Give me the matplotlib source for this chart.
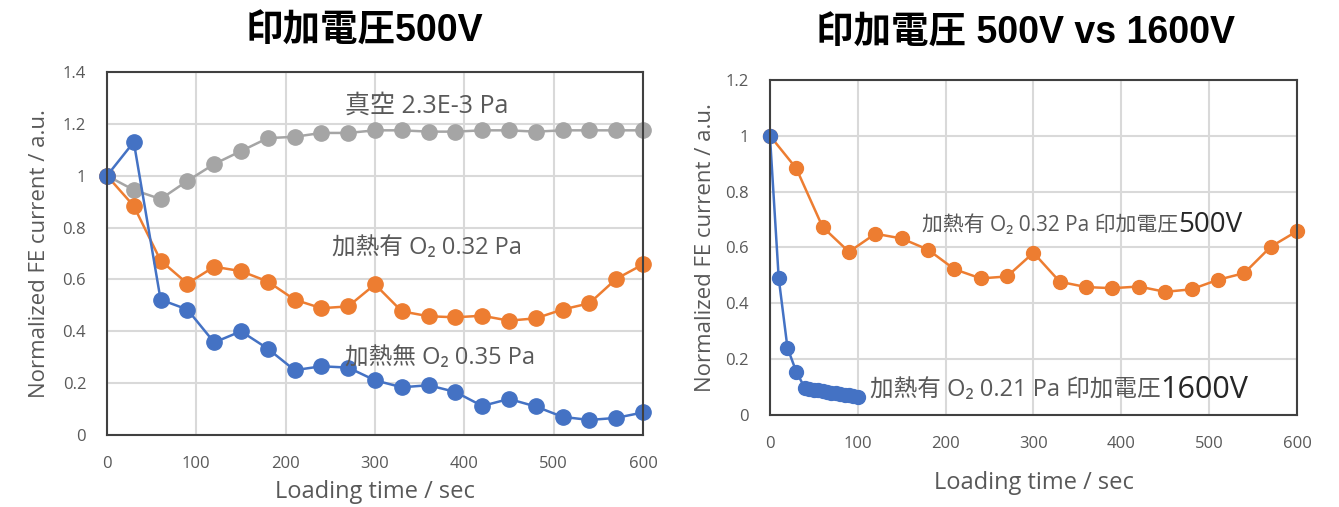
import matplotlib
matplotlib.use("Agg")
import matplotlib.pyplot as plt
from matplotlib.ticker import FuncFormatter

plt.rcParams['font.family'] = ['Open Sans', 'Noto Sans CJK JP', 'DejaVu Sans']
TITLE_FONT = ['Liberation Sans', 'Noto Sans CJK JP']

# loading time (sec) for the 500V runs
TIME_500 = [0, 30, 60, 90, 120, 150, 180, 210, 240, 270, 300,
            330, 360, 390, 420, 450, 480, 510, 540, 570, 600]

VACUUM = [1.0, 0.945, 0.91, 0.98, 1.045, 1.095, 1.145, 1.15, 1.165, 1.165, 1.175,
          1.175, 1.17, 1.17, 1.175, 1.175, 1.17, 1.175, 1.175, 1.175, 1.175]
HEAT_O2_032 = [1.0, 0.883, 0.673, 0.584, 0.649, 0.632, 0.592, 0.522, 0.489, 0.496, 0.581,
               0.477, 0.458, 0.454, 0.46, 0.441, 0.45, 0.484, 0.508, 0.602, 0.658]
NOHEAT_O2_035 = [1.0, 1.13, 0.522, 0.484, 0.357, 0.4, 0.333, 0.25, 0.265, 0.26, 0.211,
                 0.184, 0.192, 0.166, 0.112, 0.139, 0.11, 0.07, 0.058, 0.066, 0.087]

# 1600V run, sampled faster
TIME_1600 = [0, 10, 20, 30, 40, 45, 50, 55, 60, 65, 70, 75, 80, 85, 90, 95, 100]
HEAT_O2_021 = [1.0, 0.49, 0.24, 0.155, 0.095, 0.093, 0.09, 0.088, 0.085, 0.083,
               0.08, 0.078, 0.075, 0.073, 0.07, 0.068, 0.066]

BLUE = "#4472C4"
ORANGE = "#ED7D31"
GRAY = "#A5A5A5"
TEXT = "#595959"


def style_axes(ax, ymax, xpad, ypad):
    ax.set_xlim(0, 600)
    ax.set_ylim(0, ymax)
    ax.set_xticks(range(0, 601, 100))
    ax.set_yticks([i * 0.2 for i in range(int(round(ymax / 0.2)) + 1)])
    ax.yaxis.set_major_formatter(FuncFormatter(lambda v, p: "%g" % round(v, 1)))
    ax.grid(True, color="#D9D9D9", linewidth=1.5)
    ax.set_axisbelow(True)
    for s in ax.spines.values():
        s.set_color("#404040")
        s.set_linewidth(1.5)
    ax.tick_params(length=0, pad=15, labelsize=12, labelcolor=TEXT)
    ax.set_xlabel("Loading time / sec", fontsize=17, color=TEXT, labelpad=xpad)
    ax.set_ylabel("Normalized FE current / a.u.", fontsize=16, color=TEXT, labelpad=ypad)


def label(ax, x, y, text, size, big=None):
    t = ax.text(x, y, text, fontsize=size, color=TEXT, va="center", ha="left")
    if big:
        ax.annotate(big, xy=(1, 0.5), xycoords=t, va="center", ha="left",
                    fontsize=size + 5, color="#262626")


fig = plt.figure(figsize=(13.39, 5.07), dpi=100)

# left: 500V, three conditions
ax1 = fig.add_axes([0.0799, 0.142, 0.4003, 0.716])
ax1.plot(TIME_500, VACUUM, "-o", color=GRAY, lw=1.8, ms=11, clip_on=False)
ax1.plot(TIME_500, HEAT_O2_032, "-o", color=ORANGE, lw=1.8, ms=11, clip_on=False)
ax1.plot(TIME_500, NOHEAT_O2_035, "-o", color=BLUE, lw=1.8, ms=11, clip_on=False)
style_axes(ax1, 1.4, 6, 9)
label(ax1, 266, 1.27, "真空 2.3E-3 Pa", 18)
label(ax1, 252, 0.72, "加熱有 O₂ 0.32 Pa", 17)
label(ax1, 266, 0.297, "加熱無 O₂ 0.35 Pa", 17)
fig.text(0.272, 0.937, "印加電圧500V", fontsize=27, fontweight="bold",
         family=TITLE_FONT, ha="center", va="center")

# right: 500V vs 1600V
ax2 = fig.add_axes([0.575, 0.1815, 0.3936, 0.661])
ax2.plot(TIME_500, HEAT_O2_032, "-o", color=ORANGE, lw=1.8, ms=10, clip_on=False)
ax2.plot(TIME_1600, HEAT_O2_021, "-o", color=BLUE, lw=1.8, ms=10, clip_on=False)
style_axes(ax2, 1.2, 14, 7)
label(ax2, 173, 0.68, "加熱有 O₂ 0.32 Pa 印加電圧", 15, "500V")
label(ax2, 114, 0.09, "加熱有 O₂ 0.21 Pa 印加電圧", 17, "1600V")
fig.text(0.766, 0.933, "印加電圧 500V vs 1600V", fontsize=27, fontweight="bold",
         family=TITLE_FONT, ha="center", va="center")

fig.savefig("out.png", dpi=100)
